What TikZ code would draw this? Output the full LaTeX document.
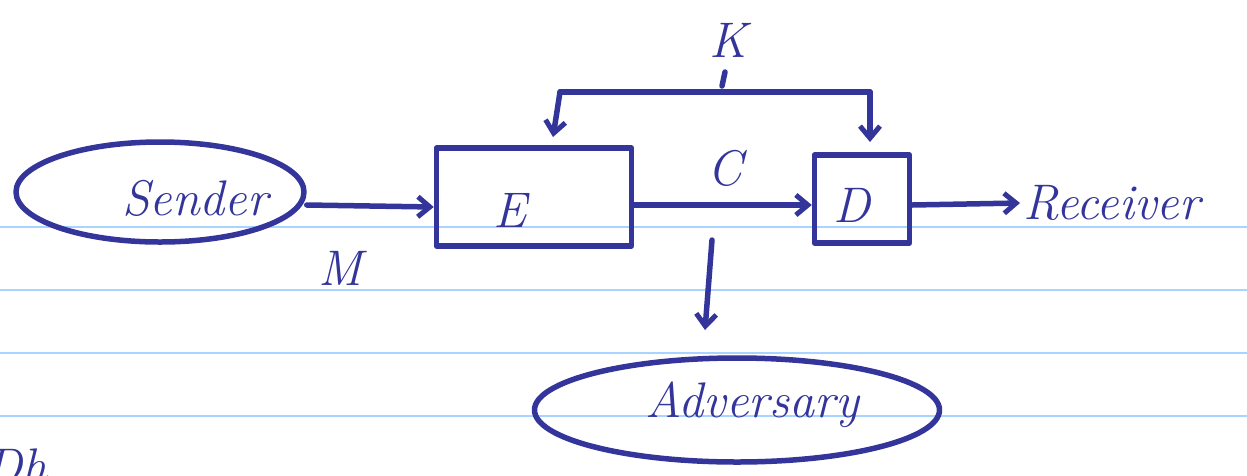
\documentclass[tikz,border=0pt]{standalone}
\usepackage{fontspec}
\usetikzlibrary{arrows.meta,shapes.geometric}
\definecolor{ink}{HTML}{33359A}
\definecolor{rule}{HTML}{A8D4FF}
\begin{document}
\begin{tikzpicture}[x=1pt,y=-1pt,
  pen/.style={draw=ink,line width=5.5pt,line cap=round,line join=round},
  arr/.style={pen,-{Straight Barb[length=12pt,width=20pt,line width=5pt]}},
  hand/.style={text=ink,font=\fontsize{50}{50}\selectfont\itshape},
  ruleline/.style={draw=rule,line width=1.5pt}]
\useasboundingbox (0,0) rectangle (1247,475);
\clip (0,0) rectangle (1247,475);
% ruled paper lines
\foreach \yy in {227,290,353,416}
  \draw[ruleline] (0,\yy) -- (1247,\yy);
% nodes
\node[pen,ellipse,minimum width=288pt,minimum height=100pt,inner sep=0pt] (snd) at (160,192) {};
\node[hand] (sndt) at (195,198) {Sender};
\node[pen,rectangle,minimum width=195pt,minimum height=98pt] (E) at (534,197) {};
\node[hand] (Et) at (510,210) {E};
\node[pen,rectangle,minimum width=95pt,minimum height=88pt] (D) at (862,199) {};
\node[hand] (Dt) at (852,205) {D};
\node[hand,anchor=west] (rcv) at (1020,203) {Receiver};
\node[pen,ellipse,minimum width=405pt,minimum height=104pt,inner sep=0pt] (adv) at (737,410) {};
\node[hand] (advt) at (752,405) {Adversary};
\node[hand] (M) at (340,268) {M};
\node[hand] (C) at (725,168) {C};
\node[hand] (K) at (728,40) {K};
\node[hand,anchor=west] (dh) at (-18,466) {Dh};
% connectors
\coordinate (kl) at (560,92);
\coordinate (kr) at (870,92);
\coordinate (kt) at (722,86);
\coordinate (kb) at (725,72);
\draw[pen] (kl) -- (kr);
\draw[pen] (kb) -- (kt);
\draw[arr] (kl) -- (553,137);
\draw[arr] (kr) -- (870,142);
\draw[arr] (snd.east |- 0,205) -- (E.west |- 0,207);
\draw[arr] (E.east |- 0,205) -- (D.west |- 0,205);
\draw[arr] (D.east |- 0,205) -- (rcv.west);
\draw[arr] (712,240) -- (705,330);
\end{tikzpicture}
\end{document}
